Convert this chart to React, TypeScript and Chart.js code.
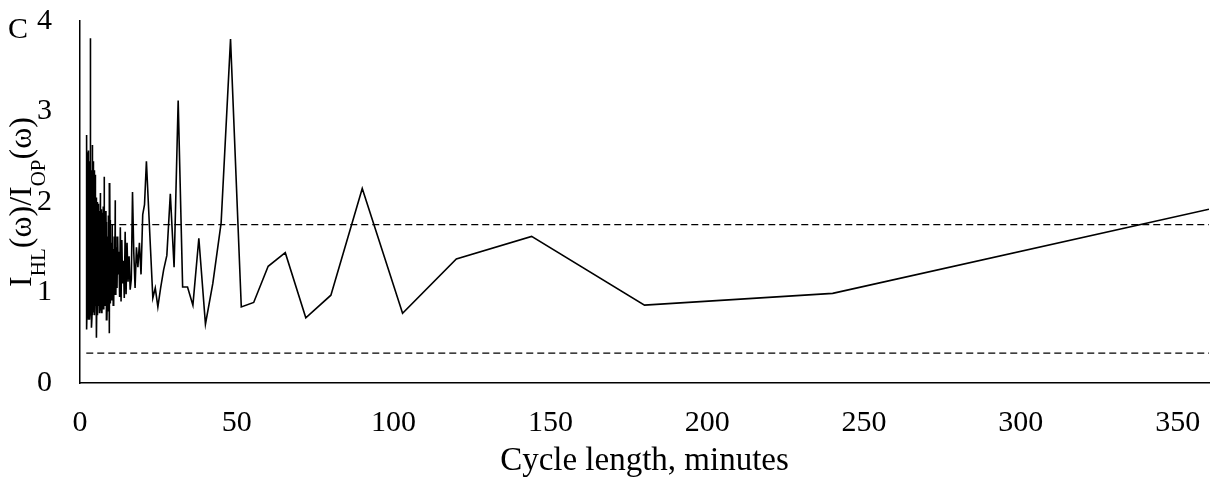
import { useEffect, useRef } from "react";
import { Chart, registerables } from "chart.js";

Chart.register(...registerables);

const FONT = '"Liberation Serif", "Times New Roman", Times, serif';

// Periodogram ratio for harmonics k = 2..360 of a 720-minute record.
const RECORD_MINUTES = 720;
const FIRST_HARMONIC = 2;

const ratio: number[] = [
  // k 2-10
  1.92, 0.99, 0.86, 1.62, 1.37, 0.77, 2.15, 0.97, 0.72,
  // k 11-20
  1.44, 1.29, 0.89, 0.84, 3.8, 1.77, 1.1, 0.65, 1.6, 0.86,
  // k 21-30
  1.06, 1.06, 3.12, 1.28, 2.09, 1.41, 1.25, 1.05, 0.84, 1.05,
  // k 31-40
  0.94, 1.47, 1.97, 2.45, 1.97, 1.86, 1.2, 1.55, 1.28, 1.5,
  // k 41-50
  1.05, 1.45, 2.11, 1.15, 1.03, 1.4, 1.12, 1.55, 0.98, 1.67,
  // k 51-60
  0.94, 1.35, 1.1, 1.58, 0.9, 1.72, 0.95, 1.45, 1.2, 1.62,
  // k 61-70
  1.05, 1.5, 0.98, 2.02, 1.1, 1.62, 0.86, 1.48, 1.0, 1.75,
  // k 71-80
  0.92, 1.55, 1.15, 1.8, 0.88, 2.21, 0.55, 1.7, 1.02, 1.85,
  // k 81-90
  0.8, 1.62, 0.95, 0.7, 1.78, 1.05, 1.9, 0.85, 1.68, 1.0,
  // k 91-100
  1.75, 2.28, 0.9, 1.85, 0.82, 1.6, 1.1, 1.95, 0.85, 1.7,
  // k 101-110
  0.95, 1.88, 0.78, 1.65, 1.02, 1.92, 0.88, 1.55, 0.8, 1.82,
  // k 111-120
  1.0, 2.1, 0.9, 1.75, 1.05, 0.77, 1.9, 0.95, 1.7, 0.85,
  // k 121-130
  1.98, 1.1, 1.6, 0.88, 1.85, 1.0, 0.75, 1.95, 0.92, 1.72,
  // k 131-140
  0.85, 2.0, 1.05, 1.8, 0.8, 1.65, 0.95, 2.05, 0.7, 1.88,
  // k 141-150
  0.5, 1.75, 0.9, 2.15, 0.85, 1.6, 0.98, 2.3, 0.88, 1.9,
  // k 151-160
  1.05, 2.1, 0.8, 1.7, 1.15, 2.2, 0.75, 1.85, 0.95, 2.35,
  // k 161-170
  0.85, 1.6, 1.1, 2.05, 0.78, 1.9, 1.0, 2.25, 0.82, 1.75,
  // k 171-180
  0.92, 2.45, 0.88, 1.65, 1.05, 2.63, 0.8, 1.95, 0.9, 2.15,
  // k 181-190
  0.75, 1.8, 1.0, 2.4, 0.85, 1.7, 0.95, 2.2, 0.72, 1.9,
  // k 191-200
  1.05, 2.3, 0.8, 1.65, 0.9, 2.1, 0.78, 1.85, 1.0, 2.25,
  // k 201-210
  0.61, 1.95, 0.85, 2.35, 0.9, 1.75, 1.1, 2.5, 0.8, 1.85,
  // k 211-220
  0.95, 2.2, 0.75, 1.7, 1.0, 2.4, 0.85, 1.9, 0.92, 2.05,
  // k 221-230
  3.81, 0.8, 1.8, 0.95, 2.3, 0.78, 1.65, 1.05, 2.45, 0.88,
  // k 231-240
  1.9, 0.7, 2.15, 0.95, 1.75, 0.82, 2.35, 1.0, 1.85, 0.75,
  // k 241-250
  2.25, 0.9, 1.7, 0.85, 2.4, 1.05, 1.95, 0.8, 2.1, 0.92,
  // k 251-260
  1.8, 0.72, 2.3, 0.95, 1.65, 0.85, 2.2, 1.0, 1.9, 0.78,
  // k 261-270
  2.35, 0.88, 1.75, 0.95, 2.2, 0.8, 1.85, 1.05, 0.9, 2.57,
  // k 271-280
  0.85, 1.95, 0.75, 2.25, 1.0, 1.7, 0.82, 2.4, 0.92, 1.8,
  // k 281-290
  0.7, 2.15, 1.05, 1.9, 0.85, 2.3, 0.95, 1.65, 0.78, 2.45,
  // k 291-300
  0.9, 1.85, 1.0, 2.2, 0.8, 1.75, 0.95, 2.35, 0.72, 1.95,
  // k 301-310
  1.05, 2.1, 0.85, 1.8, 0.92, 2.4, 0.78, 1.7, 1.0, 2.25,
  // k 311-320
  0.88, 1.9, 0.75, 2.3, 0.95, 1.85, 0.82, 2.5, 0.9, 1.65,
  // k 321-330
  1.05, 2.55, 0.8, 1.95, 0.68, 2.2, 0.92, 1.75, 0.85, 2.4,
  // k 331-340
  0.95, 2.74, 0.78, 1.9, 1.0, 2.3, 0.66, 1.8, 0.88, 2.45,
  // k 341-350
  0.82, 2.05, 0.95, 2.35, 0.64, 1.85, 1.02, 2.2, 0.59, 2.6,
  // k 351-360
  0.9, 1.95, 0.75, 2.3, 1.05, 2.1, 0.85, 2.5, 0.95, 1.6,
];

// Cycle length (minutes) of each harmonic.
const cycleMinutes: number[] = ratio.map((_, i) => RECORD_MINUTES / (i + FIRST_HARMONIC));

// Significance bounds drawn as dashed lines.
const upperBound = 1.75;
const lowerBound = 0.33;
const boundSpan = [2, 360];

const xTicks = [0, 50, 100, 150, 200, 250, 300, 350];
const yTicks = [0, 1, 2, 3, 4];

const yTitleParts: { text: string; sub: boolean }[] = [
  { text: "I", sub: false },
  { text: "HL", sub: true },
  { text: "(ω)/I", sub: false },
  { text: "OP", sub: true },
  { text: "(ω)", sub: false },
];
const panelLetter = "C";

const annotationPlugin = {
  id: "yTitleAndPanel",
  afterDraw(chart: any) {
    const { ctx, chartArea } = chart;
    const mainFont = `32px ${FONT}`;
    const subFont = `21px ${FONT}`;
    ctx.save();
    ctx.fillStyle = "#000";
    ctx.textBaseline = "alphabetic";
    let total = 0;
    for (const p of yTitleParts) {
      ctx.font = p.sub ? subFont : mainFont;
      total += ctx.measureText(p.text).width;
    }
    const cy = (chartArea.top + chartArea.bottom) / 2;
    ctx.translate(31, cy);
    ctx.rotate(-Math.PI / 2);
    let x = -total / 2;
    for (const p of yTitleParts) {
      ctx.font = p.sub ? subFont : mainFont;
      ctx.textAlign = "left";
      ctx.fillText(p.text, x, p.sub ? 14 : 0);
      x += ctx.measureText(p.text).width;
    }
    ctx.restore();

    ctx.save();
    ctx.fillStyle = "#000";
    ctx.font = `30px ${FONT}`;
    ctx.textAlign = "left";
    ctx.textBaseline = "alphabetic";
    ctx.fillText(panelLetter, 8, 38);
    ctx.restore();
  },
};

export default function App() {
  const canvasRef = useRef<HTMLCanvasElement | null>(null);

  useEffect(() => {
    document.body.style.margin = "0";
    const canvas = canvasRef.current;
    if (!canvas) return;

    const series = cycleMinutes.map((x, i) => ({ x, y: ratio[i] }));
    const upper = boundSpan.map((x) => ({ x, y: upperBound }));
    const lower = boundSpan.map((x) => ({ x, y: lowerBound }));

    const chart = new Chart(canvas, {
      type: "line",
      data: {
        datasets: [
          {
            data: upper,
            borderColor: "#000",
            borderWidth: 1.3,
            borderDash: [7, 4],
            pointRadius: 0,
            tension: 0,
          },
          {
            data: lower,
            borderColor: "#000",
            borderWidth: 1.3,
            borderDash: [7, 4],
            pointRadius: 0,
            tension: 0,
          },
          {
            data: series,
            borderColor: "#000",
            borderWidth: 1.6,
            pointRadius: 0,
            tension: 0,
          },
        ],
      },
      options: {
        responsive: false,
        animation: false,
        events: [],
        layout: { padding: { left: 0, right: 3, top: 21, bottom: 0 } },
        plugins: {
          legend: { display: false },
          tooltip: { enabled: false },
        },
        scales: {
          x: {
            type: "linear",
            min: 0,
            max: 360,
            afterBuildTicks: (scale: any) => {
              scale.ticks = xTicks.map((v) => ({ value: v }));
            },
            afterFit: (scale: any) => {
              scale.height = 99;
              scale.paddingLeft = 0;
              scale.paddingRight = 0;
            },
            grid: { display: false, drawTicks: false },
            border: { display: true, color: "#000", width: 1.5 },
            ticks: {
              color: "#000",
              font: { family: FONT, size: 30 },
              padding: 22,
              maxRotation: 0,
              autoSkip: false,
            },
            title: {
              display: true,
              text: "Cycle length, minutes",
              color: "#000",
              font: { family: FONT, size: 33 },
              padding: { top: 0, bottom: 1 },
            },
          },
          y: {
            type: "linear",
            min: 0,
            max: 4,
            afterBuildTicks: (scale: any) => {
              scale.ticks = yTicks.map((v) => ({ value: v }));
            },
            afterFit: (scale: any) => {
              scale.width = 80;
              scale.paddingTop = 0;
              scale.paddingBottom = 0;
            },
            grid: { display: false, drawTicks: false },
            border: { display: true, color: "#000", width: 1.5 },
            ticks: {
              color: "#000",
              font: { family: FONT, size: 30 },
              padding: 28,
            },
          },
        },
      },
      plugins: [annotationPlugin],
    });

    return () => chart.destroy();
  }, []);

  return (
    <div style={{ width: 1212, height: 482 }}>
      <canvas ref={canvasRef} width={1212} height={482} />
    </div>
  );
}
